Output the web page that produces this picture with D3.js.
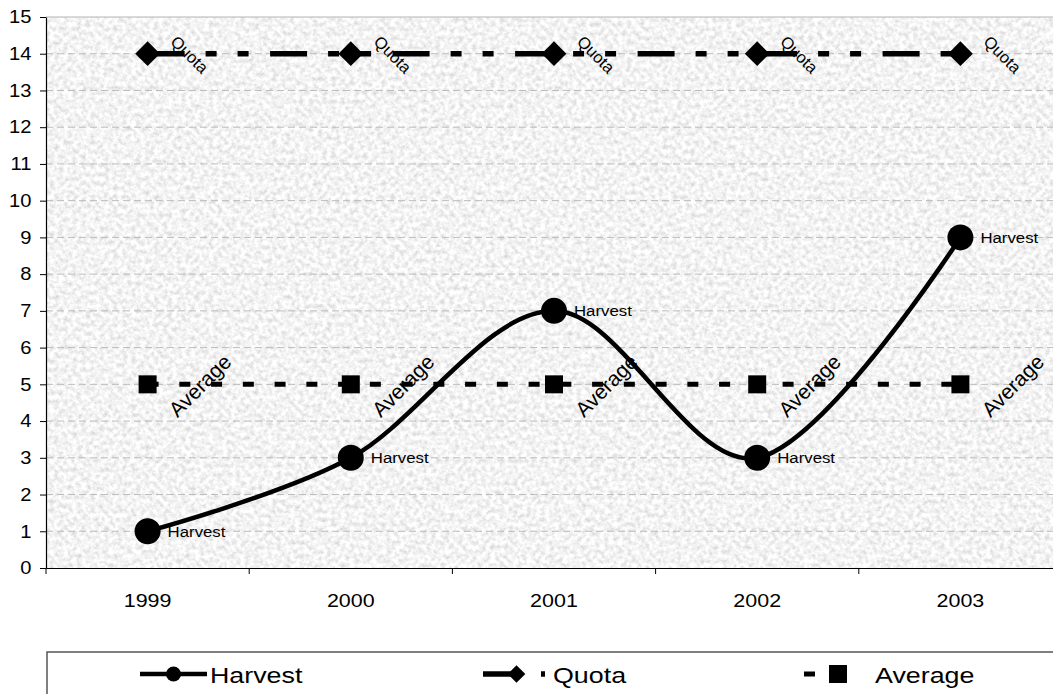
<!DOCTYPE html>
<html>
<head>
<meta charset="utf-8">
<script src="https://cdn.jsdelivr.net/npm/d3@7"></script>
<style>
  body { margin: 0; background: #fff; }
  text { font-family: "Liberation Sans", Arial, sans-serif; fill: #000; }
</style>
</head>
<body>
<div id="chart"></div>
<script>
// chart values
var years = ["1999", "2000", "2001", "2002", "2003"];
var harvest = [1, 3, 7, 3, 9];
var quota = [14, 14, 14, 14, 14];
var average = [5, 5, 5, 5, 5];
var yTicks = [0, 1, 2, 3, 4, 5, 6, 7, 8, 9, 10, 11, 12, 13, 14, 15];
var seriesNames = ["Harvest", "Quota", "Average"];

var width = 1053, height = 694;
var plot = {left: 46, top: 17, right: 1062, bottom: 568};

var svg = d3.select("#chart").append("svg")
    .attr("width", width)
    .attr("height", height);

var x = d3.scaleBand()
    .domain(years)
    .range([plot.left, plot.right]);

var y = d3.scaleLinear()
    .domain([0, 15])
    .range([plot.bottom, plot.top]);

var cx = function(d) { return x(d) + x.bandwidth() / 2; };

// grainy grey plot background
var defs = svg.append("defs");
var grain = defs.append("filter")
    .attr("id", "grain")
    .attr("filterUnits", "userSpaceOnUse")
    .attr("x", plot.left).attr("y", plot.top)
    .attr("width", plot.right - plot.left).attr("height", plot.bottom - plot.top);
grain.append("feTurbulence")
    .attr("type", "fractalNoise")
    .attr("baseFrequency", 0.22)
    .attr("numOctaves", 4)
    .attr("seed", 7);
grain.append("feColorMatrix")
    .attr("type", "matrix")
    .attr("values", "0.6 0 0 0 0.6  0.6 0 0 0 0.6  0.6 0 0 0 0.6  0 0 0 0 1");

svg.append("rect")
    .attr("x", plot.left).attr("y", plot.top)
    .attr("width", plot.right - plot.left).attr("height", plot.bottom - plot.top)
    .attr("fill", "#e4e4e4")
    .attr("filter", "url(#grain)");

// gridlines
svg.append("g")
    .selectAll("line")
    .data(yTicks.filter(function(t) { return t > 0; }))
    .enter().append("line")
    .attr("x1", plot.left).attr("x2", plot.right)
    .attr("y1", function(d) { return y(d); })
    .attr("y2", function(d) { return y(d); })
    .attr("stroke", function(d) { return d === 15 ? "#b4b4b4" : "#bbbbbb"; })
    .attr("stroke-width", 1)
    .attr("stroke-dasharray", function(d) { return d === 15 ? null : "7,4"; });

// y axis
var yAxis = svg.append("g")
    .attr("transform", "translate(" + plot.left + ",0)")
    .call(d3.axisLeft(y).tickValues(yTicks).tickSize(6).tickSizeOuter(0).tickPadding(7));
yAxis.select(".domain").attr("stroke", "#000").attr("stroke-width", 1.2);
yAxis.selectAll(".tick line").attr("stroke", "#000");
yAxis.selectAll("text")
    .attr("font-size", 18)
    .attr("font-family", "Liberation Sans, Arial, sans-serif")
    .attr("transform", "scale(1.12,1)");

// x axis
var xAxis = svg.append("g")
    .attr("transform", "translate(0," + plot.bottom + ")")
    .call(d3.axisBottom(x).tickSize(0).tickSizeOuter(0).tickPadding(26));
xAxis.select(".domain").attr("stroke", "#000").attr("stroke-width", 1.2);
xAxis.selectAll("text")
    .attr("font-size", 19)
    .attr("font-family", "Liberation Sans, Arial, sans-serif")
    .attr("transform", "scale(1.13,1)");
// category boundary ticks
svg.append("g")
    .selectAll("line")
    .data(years)
    .enter().append("line")
    .attr("x1", function(d) { return x(d); })
    .attr("x2", function(d) { return x(d); })
    .attr("y1", plot.bottom)
    .attr("y2", plot.bottom + 6)
    .attr("stroke", "#000");

// series
var smooth = d3.line()
    .x(function(d, i) { return cx(years[i]); })
    .y(function(d) { return y(d); })
    .curve(d3.curveCardinal.tension(0));

var straight = d3.line()
    .x(function(d, i) { return cx(years[i]); })
    .y(function(d) { return y(d); });

var quotaDash = "37,21,11,21,11,21.5";
var averageDash = "11,20.75";

svg.append("path")
    .datum(harvest)
    .attr("d", smooth)
    .attr("fill", "none")
    .attr("stroke", "#000")
    .attr("stroke-width", 4.5);

svg.append("path")
    .datum(quota)
    .attr("d", straight)
    .attr("fill", "none")
    .attr("stroke", "#000")
    .attr("stroke-width", 5.5)
    .attr("stroke-dasharray", quotaDash);

svg.append("path")
    .datum(average)
    .attr("d", straight)
    .attr("fill", "none")
    .attr("stroke", "#000")
    .attr("stroke-width", 5)
    .attr("stroke-dasharray", averageDash);

// markers
var diamondSym = d3.symbol().type(d3.symbolSquare);
var squareSym = d3.symbol().type(d3.symbolSquare);

svg.append("g").selectAll("circle")
    .data(harvest)
    .enter().append("circle")
    .attr("cx", function(d, i) { return cx(years[i]); })
    .attr("cy", function(d) { return y(d); })
    .attr("r", 13)
    .attr("fill", "#000");

svg.append("g").selectAll("path")
    .data(quota)
    .enter().append("path")
    .attr("d", diamondSym.size(17.5 * 17.5))
    .attr("transform", function(d, i) { return "translate(" + cx(years[i]) + "," + y(d) + ") rotate(45)"; })
    .attr("fill", "#000");

svg.append("g").selectAll("path")
    .data(average)
    .enter().append("path")
    .attr("d", squareSym.size(18 * 18))
    .attr("transform", function(d, i) { return "translate(" + cx(years[i]) + "," + y(d) + ")"; })
    .attr("fill", "#000");

// data labels
svg.append("g").selectAll("text")
    .data(harvest)
    .enter().append("text")
    .attr("transform", function(d, i) { return "translate(" + (cx(years[i]) + 20) + "," + y(d) + ") scale(1.12,1)"; })
    .attr("dy", "0.36em")
    .attr("font-size", 15)
    .text(seriesNames[0]);

svg.append("g").selectAll("text")
    .data(quota)
    .enter().append("text")
    .attr("transform", function(d, i) { return "translate(" + (cx(years[i]) + 22) + "," + (y(d) - 11) + ") rotate(45)"; })
    .attr("font-size", 16.5)
    .text(seriesNames[1]);

svg.append("g").selectAll("text")
    .data(average)
    .enter().append("text")
    .attr("transform", function(d, i) { return "translate(" + (cx(years[i]) + 30) + "," + (y(d) + 34) + ") rotate(-45)"; })
    .attr("font-size", 21)
    .text(seriesNames[2]);

// legend
var legendTop = 652, legendY = 674;
var legendX = [140, 483, 804];
var sampleW = [67, 62, 63];
var legendTextX = [210, 553, 875];

svg.append("rect")
    .attr("x", 47).attr("y", legendTop)
    .attr("width", 1030).attr("height", 80)
    .attr("fill", "#fff")
    .attr("stroke", "#555")
    .attr("stroke-width", 1.5);

var dashes = [null, quotaDash, averageDash];
var widths = [4.5, 5.5, 5];
var mids = [173.5, 516.5, 838];
seriesNames.forEach(function(name, i) {
    var g = svg.append("g");
    g.append("line")
        .attr("x1", legendX[i]).attr("x2", legendX[i] + sampleW[i])
        .attr("y1", legendY).attr("y2", legendY)
        .attr("stroke", "#000")
        .attr("stroke-width", widths[i])
        .attr("stroke-dasharray", dashes[i]);
    var mx = mids[i];
    if (i === 0) {
        g.append("circle").attr("cx", mx).attr("cy", legendY).attr("r", 7.5).attr("fill", "#000");
    } else if (i === 1) {
        g.append("path").attr("d", diamondSym.size(12.5 * 12.5))
            .attr("transform", "translate(" + mx + "," + legendY + ") rotate(45)").attr("fill", "#000");
    } else {
        g.append("path").attr("d", squareSym.size(18 * 18))
            .attr("transform", "translate(" + mx + "," + legendY + ")").attr("fill", "#000");
    }
    g.append("text")
        .attr("transform", "translate(" + legendTextX[i] + "," + (legendY + 9) + ") scale(1.22,1)")
        .attr("font-size", 22)
        .text(name);
});
</script>
</body>
</html>
